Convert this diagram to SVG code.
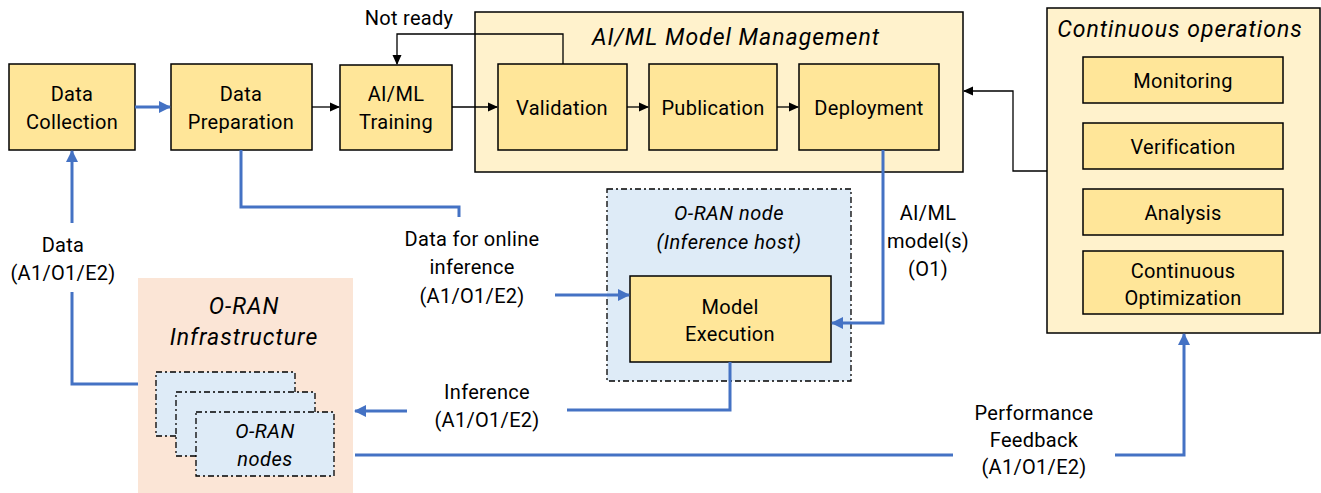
<svg xmlns="http://www.w3.org/2000/svg" width="1321" height="493" viewBox="0 0 1321 493">
<defs>
<marker id="ab" markerWidth="10" markerHeight="10" refX="9" refY="5" orient="auto" markerUnits="userSpaceOnUse"><path d="M0,0.5 L10,5 L0,9.5 Z" fill="#000"/></marker>
<marker id="au" markerWidth="12" markerHeight="12" refX="11" refY="6" orient="auto" markerUnits="userSpaceOnUse"><path d="M0,0 L12,6 L0,12 Z" fill="#4472C4"/></marker>
<style>
text{font-family:Roboto,"Liberation Sans",Arial,sans-serif;fill:#000;text-anchor:middle}
.l{font-size:20px;letter-spacing:0.3px}
.t{font-size:23px;font-style:italic;letter-spacing:1px}
.s{font-size:20px;font-style:italic;letter-spacing:0.5px}
.box{fill:#FFE699;stroke:#000;stroke-width:1.5}
.grp{fill:#FFF2CC;stroke:#000;stroke-width:1.5}
.dd{fill:#DEEBF7;stroke:#000;stroke-width:1.3;stroke-dasharray:6,3,2,3}
.bk{fill:none;stroke:#000;stroke-width:1.3}
.bl{fill:none;stroke:#4472C4;stroke-width:3}
</style>
</defs>

<g id="mm-group"><rect class="grp" x="475" y="12" width="488" height="160"/><text class="t" x="736" y="45">AI/ML Model Management</text></g>
<g id="co-group"><rect class="grp" x="1047" y="8" width="273" height="325"/><text class="t" x="1180" y="37">Continuous operations</text></g>
<g id="oran-node"><rect class="dd" x="607" y="189" width="244" height="192"/><text class="s" x="729" y="220">O-RAN node</text><text class="s" x="729" y="249">(Inference host)</text></g>
<g id="oran-infra"><rect x="138" y="278" width="215" height="215" fill="#FBE5D6"/><text class="t" x="244" y="314">O-RAN</text><text class="t" x="244" y="345">Infrastructure</text></g>
<g id="oran-nodes">
<rect class="dd" x="156" y="372" width="139" height="64"/>
<rect class="dd" x="176" y="392" width="139" height="64"/>
<rect class="dd" x="196" y="412" width="138" height="64"/>
<text class="s" x="265" y="438">O-RAN</text><text class="s" x="265" y="466">nodes</text>
</g>

<g id="data-collection"><rect class="box" x="9" y="64" width="126" height="86"/><text class="l" x="72" y="101">Data</text><text class="l" x="72" y="129">Collection</text></g>
<g id="data-preparation"><rect class="box" x="171" y="64" width="141" height="86"/><text class="l" x="241" y="101">Data</text><text class="l" x="241" y="129">Preparation</text></g>
<g id="training"><rect class="box" x="340" y="65" width="112" height="85"/><text class="l" x="396" y="101">AI/ML</text><text class="l" x="396" y="129">Training</text></g>
<g id="validation"><rect class="box" x="498" y="64" width="129" height="86"/><text class="l" x="562" y="115">Validation</text></g>
<g id="publication"><rect class="box" x="649" y="64" width="128" height="86"/><text class="l" x="713" y="115">Publication</text></g>
<g id="deployment"><rect class="box" x="799" y="64" width="140" height="86"/><text class="l" x="869" y="115">Deployment</text></g>
<g id="monitoring"><rect class="box" x="1083" y="57" width="200" height="46"/><text class="l" x="1183" y="88">Monitoring</text></g>
<g id="verification"><rect class="box" x="1083" y="123" width="200" height="46"/><text class="l" x="1183" y="154">Verification</text></g>
<g id="analysis"><rect class="box" x="1083" y="189" width="200" height="46"/><text class="l" x="1183" y="220">Analysis</text></g>
<g id="optimization"><rect class="box" x="1083" y="251" width="200" height="63"/><text class="l" x="1183" y="278">Continuous</text><text class="l" x="1183" y="305">Optimization</text></g>
<g id="model-execution"><rect class="box" x="630" y="276" width="201" height="86"/><text class="l" x="730" y="314">Model</text><text class="l" x="730" y="341">Execution</text></g>

<g id="connectors">
<path class="bl" d="M135,107 H170" marker-end="url(#au)"/>
<path class="bk" d="M312,107 H339" marker-end="url(#ab)"/>
<path class="bk" d="M452,107 H497" marker-end="url(#ab)"/>
<path class="bk" d="M627,107 H648" marker-end="url(#ab)"/>
<path class="bk" d="M777,107 H798" marker-end="url(#ab)"/>
<path class="bk" d="M563,64 V34 H397 V64" marker-end="url(#ab)"/>
<path class="bk" d="M1047,171 H1013 V91 H964" marker-end="url(#ab)"/>
<path class="bl" d="M241,150 V207 H459 V217"/>
<path class="bl" d="M555,295 H629" marker-end="url(#au)"/>
<path class="bl" d="M883,150 V323 H832" marker-end="url(#au)"/>
<path class="bl" d="M730,362 V410 H567"/>
<path class="bl" d="M407,411 H355" marker-end="url(#au)"/>
<path class="bl" d="M138,384 H72 V292"/>
<path class="bl" d="M72,223 V151" marker-end="url(#au)"/>
<path class="bl" d="M355,455 H953"/>
<path class="bl" d="M1115,455 H1184 V334" marker-end="url(#au)"/>
</g>

<g id="labels">
<text class="l" x="409" y="25">Not ready</text>
<text class="l" x="63" y="252">Data</text><text class="l" x="63" y="280">(A1/O1/E2)</text>
<text class="l" x="472" y="246">Data for online</text><text class="l" x="472" y="274">inference</text><text class="l" x="472" y="303">(A1/O1/E2)</text>
<text class="l" x="928" y="220">AI/ML</text><text class="l" x="928" y="248">model(s)</text><text class="l" x="928" y="276">(O1)</text>
<text class="l" x="487" y="399">Inference</text><text class="l" x="487" y="427">(A1/O1/E2)</text>
<text class="l" x="1034" y="420">Performance</text><text class="l" x="1034" y="447">Feedback</text><text class="l" x="1034" y="474">(A1/O1/E2)</text>
</g>
</svg>
